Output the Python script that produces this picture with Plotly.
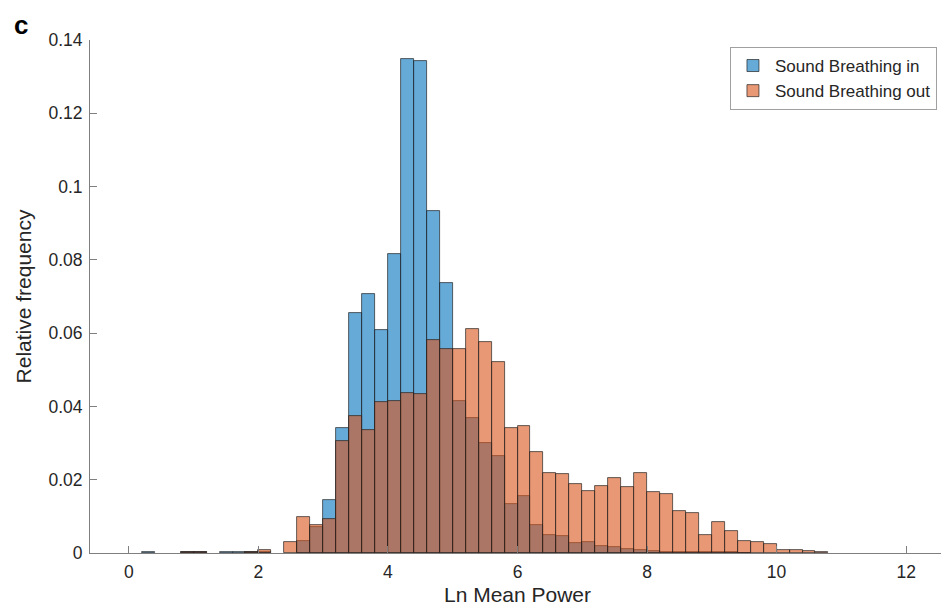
import plotly.graph_objects as go

# Bin centres (bin width 0.2)
bin_centers = [0.3, 0.5, 0.7, 0.9, 1.1, 1.3, 1.5, 1.7, 1.9, 2.1, 2.3, 2.5, 2.7, 2.9,
               3.1, 3.3, 3.5, 3.7, 3.9, 4.1, 4.3, 4.5, 4.7, 4.9, 5.1, 5.3, 5.5, 5.7,
               5.9, 6.1, 6.3, 6.5, 6.7, 6.9, 7.1, 7.3, 7.5, 7.7, 7.9, 8.1, 8.3, 8.5,
               8.7, 8.9, 9.1, 9.3, 9.5, 9.7, 9.9, 10.1, 10.3, 10.5, 10.7]
bin_width = 0.2

breath_in = [0.0004, 0, 0, 0.0003, 0.0004, 0, 0.0004, 0.0004, 0.0003, 0.0002, 0, 0, 0.0032, 0.0071,
             0.0145, 0.0341, 0.0655, 0.0707, 0.0609, 0.0816, 0.1348, 0.1344, 0.0932, 0.0737, 0.0416, 0.0368, 0.0300, 0.0264,
             0.0134, 0.0155, 0.0076, 0.0049, 0.0046, 0.0027, 0.0029, 0.0019, 0.0017, 0.0011, 0.0009, 0.0006, 0.0004, 0.0003,
             0.0003, 0.0004, 0.0004, 0.0002, 0.0001, 0, 0, 0, 0, 0, 0]

breath_out = [0, 0, 0, 0.0004, 0.0003, 0, 0, 0, 0.0004, 0.0007, 0, 0.0029, 0.0097, 0.0077,
              0.0093, 0.0306, 0.0375, 0.0337, 0.0412, 0.0416, 0.0437, 0.0434, 0.0580, 0.0557, 0.0558, 0.0611, 0.0576, 0.0520,
              0.0341, 0.0347, 0.0276, 0.0218, 0.0216, 0.0189, 0.0170, 0.0182, 0.0205, 0.0180, 0.0218, 0.0166, 0.0162, 0.0115,
              0.0110, 0.0050, 0.0085, 0.0061, 0.0034, 0.0030, 0.0025, 0.0009, 0.0009, 0.0005, 0.0003]

series_names = ["Sound Breathing in", "Sound Breathing out"]

x_ticks = [0, 2, 4, 6, 8, 10, 12]
y_ticks = [0, 0.02, 0.04, 0.06, 0.08, 0.1, 0.12, 0.14]
y_tick_labels = ["0", "0.02", "0.04", "0.06", "0.08", "0.1", "0.12", "0.14"]


def nz(vals):
    return [v if v > 0 else None for v in vals]


text_color = "#262626"
axis_color = "#7f7f7f"
font_family = "Liberation Sans, Arial, sans-serif"

fig = go.Figure()
fig.add_trace(go.Bar(
    x=bin_centers, y=nz(breath_in), width=bin_width, name=series_names[0],
    marker=dict(color="rgba(0,114,189,0.6)", line=dict(color="rgba(30,30,30,0.85)", width=0.8)),
))
fig.add_trace(go.Bar(
    x=bin_centers, y=nz(breath_out), width=bin_width, name=series_names[1],
    marker=dict(color="rgba(217,83,25,0.6)", line=dict(color="rgba(30,30,30,0.85)", width=0.8)),
))

# The page body has an 8px margin, so the figure is sized/offset to compensate
fig.update_layout(
    width=941, height=603,
    barmode="overlay",
    bargap=0,
    plot_bgcolor="white", paper_bgcolor="white",
    margin=dict(l=82, r=4, t=32, b=58),
    font=dict(family=font_family, size=17, color=text_color),
    showlegend=True,
    legend=dict(
        x=0.9906, y=0.9864, xanchor="right", yanchor="top",
        bgcolor="white", bordercolor="#a0a0a0", borderwidth=1,
        font=dict(size=17, color=text_color),
        tracegroupgap=0, itemwidth=34,
    ),
    xaxis=dict(
        range=[-0.6, 12.6], tickmode="array", tickvals=x_ticks,
        ticks="inside", ticklen=7, tickcolor=axis_color, tickwidth=1,
        showline=True, linecolor=axis_color, linewidth=1,
        showgrid=False, zeroline=False, ticklabelstandoff=3,
        title=dict(text="Ln Mean Power", font=dict(size=21, color=text_color), standoff=6),
        tickfont=dict(size=17.5, color=text_color),
    ),
    yaxis=dict(
        range=[0, 0.14], tickmode="array", tickvals=y_ticks, ticktext=y_tick_labels,
        ticks="inside", ticklen=7, tickcolor=axis_color, tickwidth=1,
        showline=True, linecolor=axis_color, linewidth=1,
        showgrid=False, zeroline=False, ticklabelstandoff=3,
        title=dict(text="Relative frequency", font=dict(size=21, color=text_color), standoff=11),
        tickfont=dict(size=17.5, color=text_color),
    ),
    annotations=[dict(
        text="<b>c</b>", xref="paper", yref="paper", x=-0.0912, y=1.03,
        xanchor="left", yanchor="middle", showarrow=False,
        font=dict(size=26, color="black", family=font_family),
    )],
)

fig.write_html("out.html")
